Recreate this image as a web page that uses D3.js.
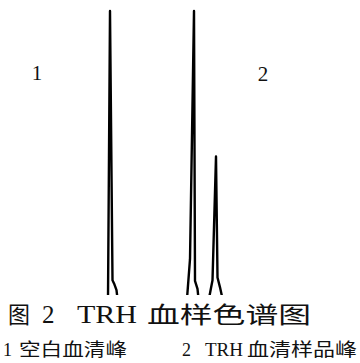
<!DOCTYPE html>
<html>
<head>
<meta charset="utf-8">
<script src="https://cdn.jsdelivr.net/npm/d3@7"></script>
<style>
  body { margin: 0; background: #fff; }
  text { fill: #111; }
</style>
</head>
<body>
<div id="chart"></div>
<script>
// retention time (arbitrary units) and detector response (% of tallest peak)
const blankTime   = [10.8, 11.0, 11.25, 11.45, 11.65, 11.75];
const blankSignal = [-2, 100, 4.5, 3, 1, -2];

const sampleTime   = [18.7, 19.0, 19.4, 19.5, 19.75, 19.85];
const sampleSignal = [-2, 12, 100, 4.3, 1.5, -2];

const trhTime   = [20.9, 21.1, 21.25, 21.6, 21.75, 22.0, 22.25];
const trhSignal = [-2, 1.8, 4.5, 48.4, 5.5, 2, -2];

const traceLabels = ["1", "2"];
const captionParts = ["图", "2", "TRH", "血样色谱图"];
const legendText = ["1", "空白血清峰", "2", "TRH", "血清样品峰"];

const width = 360;
const height = 363;

const svg = d3.select('#chart')
    .append("svg")
    .attr("width", width)
    .attr("height", height);

// 10px per time unit, baseline sits just under the crop line
const x = d3.scaleLinear().domain([0, 36]).range([0, 360]);
const y = d3.scaleLinear().domain([0, 100]).range([293, 11]);

svg.append("clipPath").attr("id", "plot-clip")
    .append("rect")
    .attr("x", 0).attr("y", 0)
    .attr("width", width).attr("height", 295);

const line = d3.line()
    .x(d => x(d[0]))
    .y(d => y(d[1]));

const traces = [
    d3.zip(blankTime, blankSignal),
    d3.zip(sampleTime, sampleSignal),
    d3.zip(trhTime, trhSignal)
];

svg.append("g")
    .attr("clip-path", "url(#plot-clip)")
    .selectAll("path")
    .data(traces)
    .join("path")
    .attr("d", line)
    .attr("fill", "none")
    .attr("stroke", "#000")
    .attr("stroke-width", 2.4)
    .attr("stroke-linejoin", "round");

// panel numbers
svg.selectAll("text.panel")
    .data(traceLabels)
    .join("text")
    .attr("class", "panel")
    .attr("x", (d, i) => i === 0 ? 37 : 263)
    .attr("y", (d, i) => i === 0 ? 80 : 81)
    .attr("text-anchor", "middle")
    .attr("font-family", "'Liberation Serif', 'DejaVu Serif', serif")
    .attr("font-size", 21)
    .text(d => d);

const isLatin = d => /^[0-9A-Z]+$/.test(d);

// figure caption, pieces placed like the printed line
const capX = [8, 42, 77, 147];
const capLen = [22, null, 60, 164];
svg.selectAll("text.caption")
    .data(captionParts)
    .join("text")
    .attr("class", "caption")
    .attr("x", (d, i) => capX[i])
    .attr("y", 323)
    .attr("font-family", d => isLatin(d)
        ? "'Liberation Serif', serif" : "'Noto Sans CJK SC', sans-serif")
    .attr("font-size", d => isLatin(d) ? 25 : 23)
    .attr("textLength", (d, i) => capLen[i])
    .attr("lengthAdjust", "spacingAndGlyphs")
    .text(d => d);

const legX = [3, 19, 182, 205, 247];
const legLen = [null, 108, null, 38, 110];
svg.selectAll("text.legend")
    .data(legendText)
    .join("text")
    .attr("class", "legend")
    .attr("x", (d, i) => legX[i])
    .attr("y", 356)
    .attr("font-family", d => isLatin(d)
        ? "'Liberation Serif', serif" : "'Noto Sans CJK SC', sans-serif")
    .attr("font-size", d => isLatin(d) ? 18 : 18)
    .attr("textLength", (d, i) => legLen[i])
    .attr("lengthAdjust", "spacingAndGlyphs")
    .text(d => d);
</script>
</body>
</html>
